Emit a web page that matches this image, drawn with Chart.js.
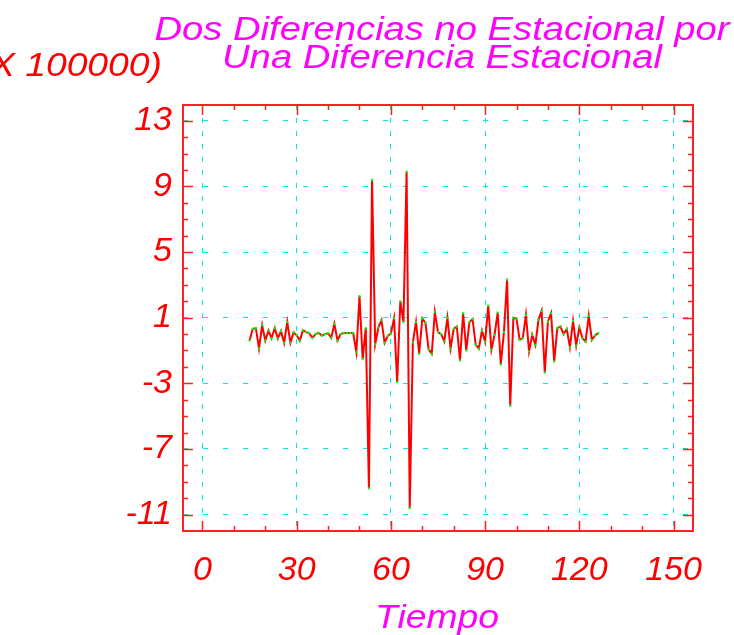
<!DOCTYPE html>
<html>
<head>
<meta charset="utf-8">
<script src="https://cdn.jsdelivr.net/npm/chart.js@4.4.0/dist/chart.umd.min.js"></script>
<style>
  html, body { margin: 0; padding: 0; background: #fff; }
  #wrap { width: 734px; height: 635px; }
</style>
</head>
<body>
<div id="wrap"><canvas id="serie" width="734" height="635"></canvas></div>
<script>
// periodos (la serie diferenciada empieza en t = 15)
const tiempo = [
  15, 16, 17, 18, 19, 20, 21, 22, 23, 24, 25, 26, 27, 28, 29, 30,
  31, 32, 33, 34, 35, 36, 37, 38, 39, 40, 41, 42, 43, 44, 45, 46,
  47, 48, 49, 50, 51, 52, 53, 54, 55, 56, 57, 58, 59, 60, 61, 62,
  63, 64, 65, 66, 67, 68, 69, 70, 71, 72, 73, 74, 75, 76, 77, 78,
  79, 80, 81, 82, 83, 84, 85, 86, 87, 88, 89, 90, 91, 92, 93, 94,
  95, 96, 97, 98, 99, 100, 101, 102, 103, 104, 105, 106, 107, 108, 109, 110,
  111, 112, 113, 114, 115, 116, 117, 118, 119, 120, 121, 122, 123, 124, 125, 126
];
// valores en unidades de 100000
const valores = [
  -0.39, 0.32, 0.36, -0.88, 0.54, -0.39, 0.21, -0.25, 0.36, -0.27, 0.18, -0.53, 0.74, -0.53, 0.09, -0.07,
  -0.40, 0.24, 0.12, 0.06, -0.23, 0.00, 0.07, -0.09, 0.00, 0.06, -0.23, 0.62, -0.39, 0.00, 0.06, 0.06,
  0.06, 0.06, -1.10, 2.31, -1.51, 0.36, -9.40, 9.39, -0.62, 0.40, 0.85, -0.53, -0.11, 0.03, 0.97, -2.93,
  2.00, 0.73, 9.89, -10.60, -0.50, 0.74, -1.20, 0.95, 0.68, -0.92, -1.20, 1.35, 0.12, 0.00, -0.45, 0.99,
  -0.88, 0.32, 0.46, -1.61, 1.27, -1.00, 0.72, 0.91, -0.64, -0.88, 0.20, -0.47, 1.74, -0.96, -0.05, 1.31,
  -1.85, 0.12, 3.32, -4.37, 0.99, 0.95, -0.35, -0.25, 1.17, -1.06, -0.05, -0.66, 0.87, 1.41, -2.34, 0.76,
  1.27, -1.67, 0.36, 0.46, 0.00, 0.30, -0.80, 0.80, -0.70, 0.40, -0.25, -0.45, 1.11, -0.35, -0.09, 0.06
];
const xTicks = [0, 30, 60, 90, 120, 150];
const yTicks = [-11, -7, -3, 1, 5, 9, 13];
const tituloLineas = ['Dos Diferencias no Estacional por', 'Una Diferencia Estacional'];
const escalaTexto = '(X 100000)';
const ejeXTexto = 'Tiempo';

const fuente = '"Liberation Sans", Arial, sans-serif';
const rojo = '#ff0000';
const magenta = '#ff00ff';
const cian = '#00eeee';

// texto ensanchado horizontalmente (la fuente del original es mas ancha)
function textoAncho(ctx, t, x, y, k, align) {
  ctx.save();
  ctx.translate(x, y);
  ctx.scale(k, 1);
  ctx.textAlign = align;
  ctx.fillText(t, 0, 0);
  ctx.restore();
}

// marco rojo con marcas interiores y textos sueltos
const marcoPlugin = {
  id: 'marco',
  afterDraw(chart) {
    const { ctx, chartArea: a, scales } = chart;
    const x = scales.x;
    const y = scales.y;
    ctx.save();
    ctx.strokeStyle = '#ff2020';
    ctx.lineWidth = 2;
    ctx.strokeRect(a.left, a.top, a.right - a.left, a.bottom - a.top);

    ctx.lineWidth = 1.5;
    ctx.beginPath();
    for (let v = -12; v <= 14; v += 1) {
      const py = Math.round(y.getPixelForValue(v)) + 0.5;
      if (py <= a.top + 1 || py >= a.bottom - 1) continue;
      const len = yTicks.includes(v) ? 10 : 5;
      ctx.moveTo(a.left, py); ctx.lineTo(a.left + len, py);
      ctx.moveTo(a.right, py); ctx.lineTo(a.right - len, py);
    }
    for (let v = 0; v <= 150; v += 10) {
      const px = Math.round(x.getPixelForValue(v)) + 0.5;
      const len = xTicks.includes(v) ? 10 : 5;
      ctx.moveTo(px, a.bottom); ctx.lineTo(px, a.bottom - len);
      ctx.moveTo(px, a.top); ctx.lineTo(px, a.top + len);
    }
    ctx.stroke();

    ctx.textBaseline = 'alphabetic';
    ctx.fillStyle = magenta;
    ctx.font = 'italic 33px ' + fuente;
    const anchos = [575, 440];
    const bases = [40, 68];
    tituloLineas.forEach((t, i) => {
      const k = anchos[i] / ctx.measureText(t).width;
      textoAncho(ctx, t, 442, bases[i], k, 'center');
    });

    ctx.fillStyle = rojo;
    textoAncho(ctx, escalaTexto, 162, 76, 1.13, 'right');

    ctx.fillStyle = magenta;
    textoAncho(ctx, ejeXTexto, 437, 628, 1.13, 'center');
    ctx.restore();
  }
};

const ctx = document.getElementById('serie').getContext('2d');
new Chart(ctx, {
  type: 'line',
  data: {
    datasets: [{
      data: tiempo.map((t, i) => ({ x: t, y: valores[i] })),
      borderColor: rojo,
      borderWidth: 2,
      tension: 0,
      pointStyle: 'rect',
      pointRadius: 1.5,
      pointBackgroundColor: '#00ff00',
      pointBorderWidth: 0,
      fill: false,
    }],
  },
  options: {
    responsive: false,
    animation: false,
    layout: { padding: { top: 105, right: 41, left: 0, bottom: 0 } },
    plugins: {
      legend: { display: false },
      tooltip: { enabled: false },
    },
    scales: {
      x: {
        type: 'linear',
        min: -6.2,
        max: 156.2,
        afterBuildTicks(s) { s.ticks = xTicks.map((v) => ({ value: v })); },
        afterFit(s) { s.height = 104; },
        grid: { color: cian, lineWidth: 1, drawTicks: false },
        border: { display: false, dash: [5, 8] },
        ticks: {
          color: rojo,
          padding: 19,
          maxRotation: 0,
          font: { family: fuente, size: 34, style: 'italic' },
        },
      },
      y: {
        type: 'linear',
        min: -12,
        max: 13.96,
        afterBuildTicks(s) { s.ticks = yTicks.map((v) => ({ value: v })); },
        afterFit(s) { s.width = 183; },
        grid: { color: cian, lineWidth: 1, drawTicks: false },
        border: { display: false, dash: [5, 15] },
        ticks: {
          color: rojo,
          padding: 11,
          font: { family: fuente, size: 34, style: 'italic' },
        },
      },
    },
  },
  plugins: [marcoPlugin],
});
</script>
</body>
</html>
